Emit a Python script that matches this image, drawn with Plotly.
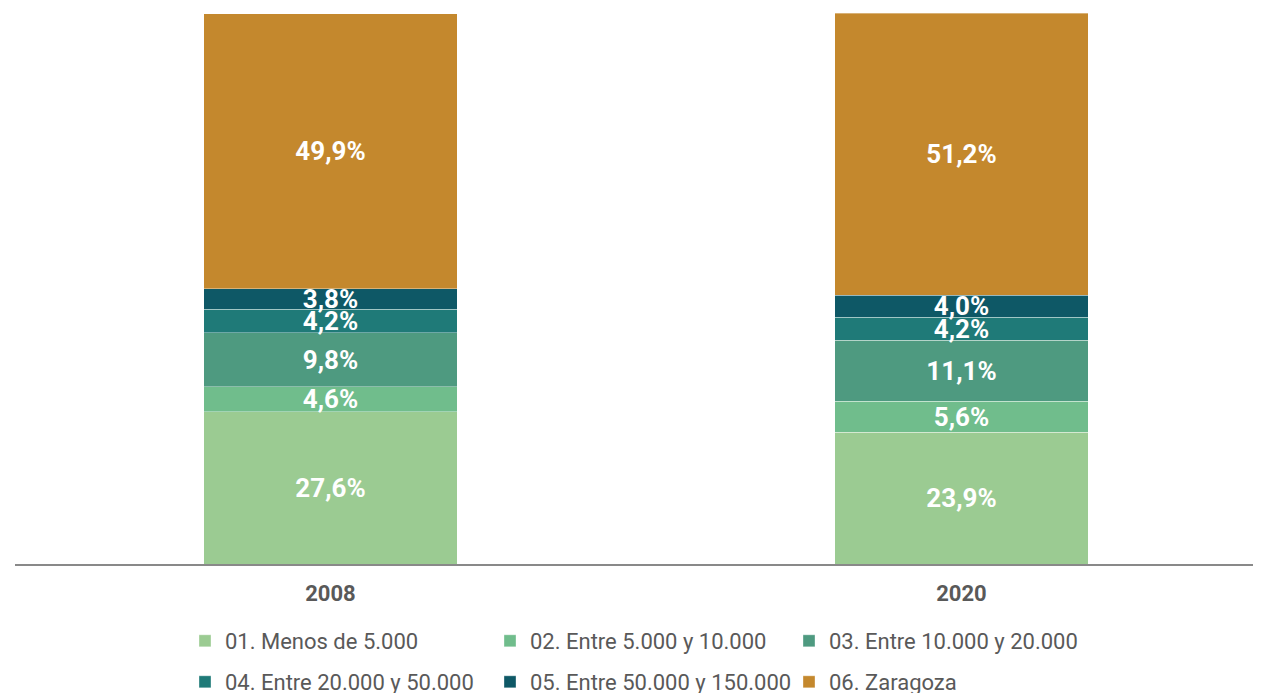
import plotly.graph_objects as go

years = ["2008", "2020"]
series_names = [
    "01. Menos de 5.000",
    "02. Entre 5.000 y 10.000",
    "03. Entre 10.000 y 20.000",
    "04. Entre 20.000 y 50.000",
    "05. Entre 50.000 y 150.000",
    "06. Zaragoza",
]
menos_5000 = [27.6, 23.9]
entre_5000_10000 = [4.6, 5.6]
entre_10000_20000 = [9.8, 11.1]
entre_20000_50000 = [4.2, 4.2]
entre_50000_150000 = [3.8, 4.0]
zaragoza = [49.9, 51.2]

series_values = [menos_5000, entre_5000_10000, entre_10000_20000,
                 entre_20000_50000, entre_50000_150000, zaragoza]
colors = ["#9BCB92", "#70BD8C", "#4E9A80", "#1F7A78", "#0E5866", "#C4882D"]

# page body has an 8px margin; compensate so window positions match
OFF = 8
W, H = 1261, 693
L = 15 - OFF
T = 13 - OFF
axis_y = 564 - OFF
B = H - axis_y
R = 0
pw = W - L - R
ph = H - T - B

# legend boxes: (left edge, row centre) in window pixels
leg_pos = [(185, 641), (490, 641), (789, 641), (185, 682), (490, 682), (789, 682)]

fig = go.Figure()
legend_names = ["legend", "legend2", "legend3", "legend4", "legend5", "legend6"]
for i, (name, vals, col) in enumerate(zip(series_names, series_values, colors)):
    fig.add_trace(go.Bar(
        x=years, y=vals, name=name,
        marker=dict(color=col, line=dict(color="rgba(255,255,255,0.35)", width=1)),
        width=0.401,
        text=[f"{v:.1f}".replace(".", ",") + "%" for v in vals],
        textposition="inside", insidetextanchor="middle",
        constraintext="none",
        textfont=dict(family="Roboto", size=26, color="white", weight="bold"),
        legend=legend_names[i],
        hoverinfo="skip",
    ))

layout_legends = {}
for i, ln in enumerate(legend_names):
    px, py = leg_pos[i]
    px -= OFF
    py -= OFF
    layout_legends[ln] = dict(
        x=(px - L) / pw, y=(H - B - py) / ph,
        xanchor="left", yanchor="middle",
        orientation="h",
        font=dict(family="Roboto", size=22, color="#595959"),
        bgcolor="rgba(0,0,0,0)", borderwidth=0,
        itemclick=False, itemdoubleclick=False,
    )

# category centres at window x 330.5 and 961.5 (631 px apart)
unit = 631.0
r0 = -0.5
r1 = r0 + pw / unit

fig.update_layout(
    width=W, height=H,
    margin=dict(l=L, r=R, t=T, b=B, pad=0, autoexpand=False),
    barmode="stack",
    plot_bgcolor="white", paper_bgcolor="white",
    showlegend=True,
    xaxis=dict(
        type="category", range=[r0, r1],
        showline=True, linecolor="#898989", linewidth=2,
        showgrid=False, ticks="outside", ticklen=9, tickcolor="rgba(0,0,0,0)",
        tickfont=dict(family="Roboto", size=22, color="#595959", weight="bold"),
    ),
    yaxis=dict(range=[0, 100], visible=False, showgrid=False, zeroline=False),
    **layout_legends,
)

fig.write_html("out.html")
